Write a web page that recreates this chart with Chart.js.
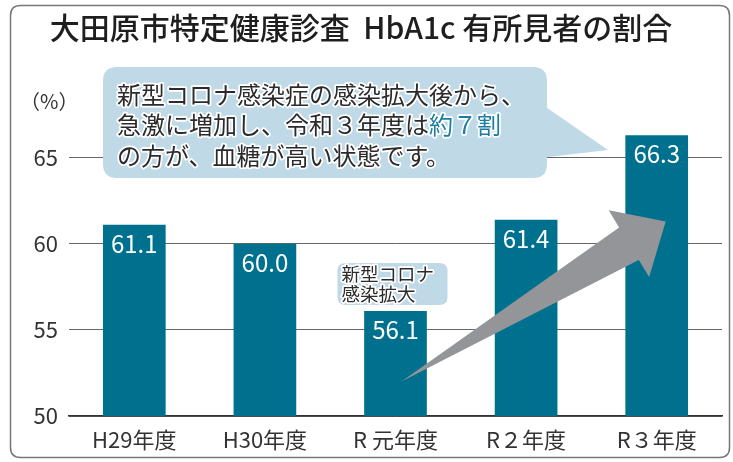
<!DOCTYPE html>
<html lang="ja">
<head>
<meta charset="utf-8">
<title>大田原市特定健康診査 HbA1c 有所見者の割合</title>
<script src="https://cdn.jsdelivr.net/npm/chart.js@4.4.1/dist/chart.umd.min.js"></script>
<style>
  html, body { margin: 0; padding: 0; background: #fff; }
  #wrap { width: 733px; height: 462px; }
</style>
</head>
<body>
<div id="wrap"><canvas id="hba1cChart" width="733" height="462"></canvas></div>
<script>
// data
const years = ['H29年度', 'H30年度', 'R 元年度', 'R２年度', 'R３年度'];
const rates = [61.1, 60.0, 56.1, 61.4, 66.3];
const yTicks = [50, 55, 60, 65];

const titleText = '大田原市特定健康診査  HbA1c 有所見者の割合';
const noteLines = ['新型コロナ感染症の感染拡大後から、', '急激に増加し、令和３年度は', 'の方が、血糖が高い状態です。'];
const noteHighlight = '約７割';
const covidNote = ['新型コロナ', '感染拡大'];

const FONT = '"Noto Sans CJK JP", "Noto Sans", sans-serif';
const BAR = '#00708f';
const BUBBLE = '#bfd9e6';
const ARROW = '#939598';
const TEXT = '#2b2b2b';

Chart.defaults.font.family = FONT;

function roundRectPath(ctx, x, y, w, h, r) {
    ctx.moveTo(x + r, y);
    ctx.lineTo(x + w - r, y);
    ctx.quadraticCurveTo(x + w, y, x + w, y + r);
    ctx.lineTo(x + w, y + h - r);
    ctx.quadraticCurveTo(x + w, y + h, x + w - r, y + h);
    ctx.lineTo(x + r, y + h);
    ctx.quadraticCurveTo(x, y + h, x, y + h - r);
    ctx.lineTo(x, y + r);
    ctx.quadraticCurveTo(x, y, x + r, y);
}

function haloText(ctx, text, x, y, color) {
    ctx.lineJoin = 'round';
    ctx.strokeStyle = '#fff';
    ctx.lineWidth = 3.5;
    ctx.strokeText(text, x, y);
    ctx.fillStyle = color;
    ctx.fillText(text, x, y);
}

// frame round the whole figure
const framePlugin = {
    id: 'frame',
    beforeDraw(chart) {
        const ctx = chart.ctx;
        ctx.save();
        ctx.fillStyle = '#fff';
        ctx.fillRect(0, 0, chart.width, chart.height);
        ctx.beginPath();
        roundRectPath(ctx, 10.5, 5.5, 719, 452, 10);
        ctx.strokeStyle = '#777';
        ctx.lineWidth = 1.5;
        ctx.stroke();
        ctx.restore();
    }
};

// value labels, arrow, callouts
const notesPlugin = {
    id: 'notes',
    afterDatasetsDraw(chart) {
        const ctx = chart.ctx;
        const xs = chart.scales.x;
        const ys = chart.scales.y;
        ctx.save();

        // unit
        ctx.font = '20px ' + FONT;
        ctx.fillStyle = '#333';
        ctx.textAlign = 'left';
        ctx.textBaseline = 'middle';
        ctx.fillText('（%）', 20, 101);

        // value labels inside bars
        const meta = chart.getDatasetMeta(0);
        ctx.font = '24px ' + FONT;
        ctx.textAlign = 'center';
        ctx.fillStyle = '#fff';
        meta.data.forEach((bar, i) => {
            ctx.fillText(rates[i].toFixed(1), bar.x, bar.y + 19);
        });

        // tapered arrow from R元 to R3
        const tail = { x: xs.getPixelForValue(2) + 6, y: ys.getPixelForValue(52) };
        const tip = { x: xs.getPixelForValue(4) + 9, y: ys.getPixelForValue(61.3) };
        const dx = tip.x - tail.x, dy = tip.y - tail.y;
        const len = Math.hypot(dx, dy);
        const u = { x: dx / len, y: dy / len };
        const n = { x: -u.y, y: u.x };
        const headLen = 43, headHalf = 39, shaftHalf = 19;
        const base = { x: tip.x - u.x * headLen, y: tip.y - u.y * headLen };
        ctx.beginPath();
        ctx.moveTo(tail.x, tail.y);
        ctx.lineTo(base.x + n.x * shaftHalf, base.y + n.y * shaftHalf);
        ctx.lineTo(base.x + n.x * headHalf, base.y + n.y * headHalf);
        ctx.lineTo(tip.x, tip.y);
        ctx.lineTo(base.x - n.x * headHalf, base.y - n.y * headHalf);
        ctx.lineTo(base.x - n.x * shaftHalf, base.y - n.y * shaftHalf);
        ctx.closePath();
        ctx.fillStyle = ARROW;
        ctx.fill();

        // big speech bubble
        ctx.beginPath();
        roundRectPath(ctx, 103, 67, 444, 111, 14);
        ctx.fillStyle = BUBBLE;
        ctx.fill();
        ctx.beginPath();
        ctx.moveTo(540, 103);
        ctx.lineTo(608, 150);
        ctx.lineTo(540, 158);
        ctx.closePath();
        ctx.fill();

        ctx.font = '24px ' + FONT;
        ctx.textAlign = 'left';
        ctx.textBaseline = 'middle';
        haloText(ctx, noteLines[0], 117, 95, TEXT);
        haloText(ctx, noteLines[1], 117, 125, TEXT);
        const w = ctx.measureText(noteLines[1]).width;
        haloText(ctx, noteHighlight, 117 + w, 125, '#1b7ea0');
        haloText(ctx, noteLines[2], 117, 156, TEXT);

        // small covid bubble above R元
        const cx = xs.getPixelForValue(2);
        ctx.beginPath();
        roundRectPath(ctx, cx - 58, 263, 110, 42, 8);
        ctx.fillStyle = BUBBLE;
        ctx.fill();
        ctx.font = '18.5px ' + FONT;
        haloText(ctx, covidNote[0], cx - 54, 274, TEXT);
        haloText(ctx, covidNote[1], cx - 54, 294, TEXT);

        ctx.restore();
    }
};

const ctx = document.getElementById('hba1cChart').getContext('2d');
const chart = new Chart(ctx, {
    type: 'bar',
    data: {
        labels: years,
        datasets: [{
            label: 'HbA1c 有所見者の割合 (%)',
            data: rates,
            backgroundColor: BAR,
            borderWidth: 0,
            barPercentage: 0.48,
            categoryPercentage: 1
        }]
    },
    options: {
        responsive: false,
        animation: false,
        layout: { padding: { left: 0, right: 11, top: 0, bottom: 6 } },
        plugins: {
            legend: { display: false },
            tooltip: { enabled: false },
            title: {
                display: true,
                text: titleText,
                color: '#1e1e1e',
                font: { size: 30, weight: '500' },
                padding: { top: 10, bottom: 60 }
            }
        },
        scales: {
            x: {
                grid: { display: false, drawTicks: false },
                border: { color: '#333', width: 1.5 },
                ticks: { color: '#333', font: { size: 22 }, padding: 10 },
                afterFit(scale) { scale.height = 40; }
            },
            y: {
                min: 50,
                max: 68,
                afterBuildTicks(scale) { scale.ticks = yTicks.map(v => ({ value: v })); },
                grid: { color: '#666', lineWidth: 1, drawTicks: false },
                border: { display: false },
                ticks: { color: '#333', font: { size: 22 }, padding: 11 },
                afterFit(scale) { scale.width = 69; }
            }
        }
    },
    plugins: [framePlugin, notesPlugin]
});
</script>
</body>
</html>
